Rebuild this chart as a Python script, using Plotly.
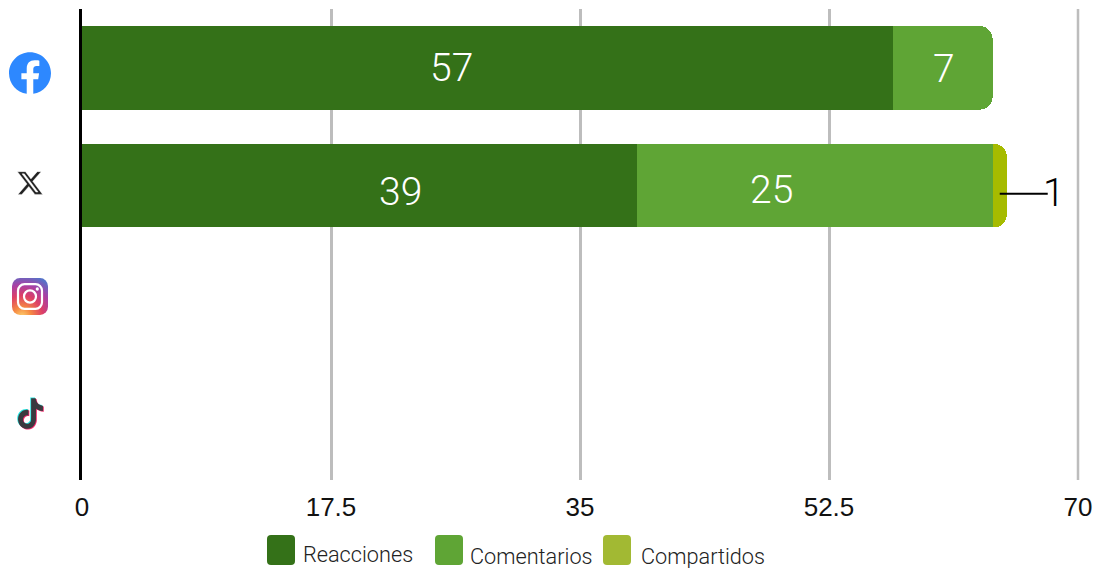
import base64
import plotly.graph_objects as go

platforms = ["Facebook", "X", "Instagram", "TikTok"]
reacciones = [57, 39, None, None]
comentarios = [7, 25, None, None]
compartidos = [None, 1, None, None]
series_names = ["Reacciones", "Comentarios", "Compartidos"]
tick_values = [0, 17.5, 35, 52.5, 70]
tick_labels = ["0", "17.5", "35", "52.5", "70"]

DARK, MID, LIME = "#347118", "#5fa535", "#a6bb00"
LEGEND_COLORS = [DARK, MID, "#a2b933"]
W, H = 1096, 568
L, R, T, B = 82, 18, 9, 88
LABEL_FONT = "Roboto"
TEXT_FONT = "Liberation Sans"


def px(x):
    return (x - L) / (W - L - R)


def py(y):
    return 1 - (y - T) / (H - T - B)


def uri(svg):
    return "data:image/svg+xml;base64," + base64.b64encode(svg.encode()).decode()


FB = ("M24 12.073c0-6.627-5.373-12-12-12s-12 5.373-12 12c0 5.99 4.388 10.954 10.125 11.854v-8.385H7.078v-3.47h3.047V9.43"
      "c0-3.007 1.792-4.669 4.533-4.669 1.312 0 2.686.235 2.686.235v2.953H15.83c-1.491 0-1.956.925-1.956 1.874v2.25h3.328"
      "l-.532 3.47h-2.796v8.385C19.612 23.027 24 18.062 24 12.073z")
XP = ("M18.244 2.25h3.308l-7.227 8.26 8.502 11.24H16.17l-5.214-6.817L4.99 21.75H1.68l7.73-8.835L1.254 2.25H8.08l4.713 6.231z"
      "m-1.161 17.52h1.833L7.084 4.126H5.117z")
TT = ("M12.525.02c1.31-.02 2.61-.01 3.91-.02.08 1.53.63 3.09 1.75 4.17 1.12 1.11 2.7 1.62 4.24 1.79v4.03c-1.44-.05-2.89-.35-4.2-.97"
      "-.57-.26-1.1-.59-1.62-.93-.01 2.92.01 5.84-.02 8.75-.08 1.4-.54 2.79-1.35 3.94-1.31 1.92-3.58 3.17-5.91 3.21-1.43.08-2.86-.31-4.08-1.03"
      "-2.02-1.19-3.44-3.37-3.65-5.71-.02-.5-.03-1-.01-1.49.18-1.9 1.12-3.72 2.58-4.96 1.66-1.44 3.98-2.13 6.15-1.72.02 1.48-.04 2.96-.04 4.44"
      "-.99-.32-2.15-.23-3.02.37-.63.41-1.11 1.04-1.36 1.75-.21.51-.15 1.07-.14 1.61.24 1.64 1.82 3.02 3.5 2.87 1.12-.01 2.19-.66 2.77-1.61"
      ".19-.33.4-.67.41-1.06.1-1.79.06-3.57.07-5.36.01-4.03-.01-8.05.02-12.07z")

svg_fb = f'<svg xmlns="http://www.w3.org/2000/svg" width="120" height="120" viewBox="0 0 24 24"><circle cx="12" cy="12" r="11" fill="#fff"/><path fill="#2d88ff" d="{FB}"/></svg>'
svg_x = f'<svg xmlns="http://www.w3.org/2000/svg" width="120" height="120" viewBox="0 0 24 24"><path fill="#222" stroke="#fff" stroke-width="0.35" d="{XP}"/></svg>'
svg_ig = ('<svg xmlns="http://www.w3.org/2000/svg" width="120" height="120" viewBox="0 0 36 36"><defs>'
          '<radialGradient id="g" cx="0.28" cy="1.05" r="1.15">'
          '<stop offset="0" stop-color="#fdd26f"/><stop offset="0.22" stop-color="#f68a42"/>'
          '<stop offset="0.5" stop-color="#dd3f66"/><stop offset="0.75" stop-color="#a940a5"/>'
          '<stop offset="1" stop-color="#5572c8"/></radialGradient></defs>'
          '<rect width="36" height="36" rx="8" fill="url(#g)"/>'
          '<rect x="6" y="6" width="24" height="24" rx="6.5" fill="none" stroke="#fff" stroke-width="2.2"/>'
          '<circle cx="18" cy="18" r="6" fill="none" stroke="#fff" stroke-width="2.2"/>'
          '<circle cx="25.3" cy="10.7" r="1.6" fill="#fff"/></svg>')
svg_tt = ('<svg xmlns="http://www.w3.org/2000/svg" width="120" height="120" viewBox="-1 -1 26 26">'
          f'<path fill="#25e5e0" transform="translate(-.7 -.6)" d="{TT}"/>'
          f'<path fill="#f0256a" transform="translate(.7 .6)" d="{TT}"/>'
          f'<path fill="#3a3a3f" d="{TT}"/></svg>')

# (svg, left, top, width, height) in page pixels
icons = [(svg_fb, 9, 52, 42, 42), (svg_x, 16, 169, 28, 28), (svg_ig, 12, 278, 36, 37), (svg_tt, 15, 397, 31, 33)]

fig = go.Figure()
for name, vals, col in zip(series_names, [reacciones, comentarios, compartidos], [DARK, MID, LIME]):
    fig.add_bar(name=name, y=platforms, x=vals, orientation="h", marker=dict(color=col, line=dict(width=0)),
                showlegend=False, hoverinfo="x+y+name")

# Data labels, taken from the values; the reference's labels sit off-centre (dx right, dy down, in pixels)
label_offsets = {(0, 0): (-36, 0), (1, 0): (41, 6), (1, 1): (-43, 4), (0, 1): (1, 1)}
annotations = []
for (row, col), (dx, dy) in label_offsets.items():
    vals = [reacciones, comentarios][col]
    start = reacciones[row] if col == 1 else 0
    annotations.append(dict(x=start + vals[row] / 2, y=platforms[row], xref="x", yref="y", text=str(vals[row]),
                            showarrow=False, xshift=dx, yshift=-dy,
                            font=dict(family=LABEL_FONT, size=39, color="white", weight=300)))

# Outside label with leader line for Compartidos on X
share_mid = reacciones[1] + comentarios[1] + compartidos[1] / 2
annotations.append(dict(x=share_mid, y=platforms[1], xref="x", yref="y", text=str(compartidos[1]), showarrow=False,
                        xshift=54, yshift=-7, font=dict(family=LABEL_FONT, size=39, color="black", weight=300)))
shapes = [dict(type="line", xsizemode="pixel", ysizemode="pixel", xref="x", yref="y", xanchor=share_mid,
               yanchor=platforms[1], x0=0, x1=48, y0=-8, y1=-8, line=dict(color="black", width=2), layer="above"),
          # plotly drops the gridline at the range end, so the last one is drawn on the plot's right edge
          dict(type="line", xref="paper", yref="paper", x0=1, x1=1, y0=0, y1=1,
               line=dict(color="#bdbdbd", width=2.5), layer="below")]

# Legend drawn to the reference's uneven layout
legend_pos = [(267, 300.5, 554), (435, 468, 556), (603, 639, 556.5)]
for name, col, (sx, tx, ty) in zip(series_names, LEGEND_COLORS, legend_pos):
    x0, x1, y0, y1 = sx, sx + 28, 535, 565
    r = 4
    def P(a, b):
        return f"{px(a):.5f},{py(b):.5f}"
    path = (f"M{P(x0 + r, y0)} L{P(x1 - r, y0)} Q{P(x1, y0)} {P(x1, y0 + r)} L{P(x1, y1 - r)} Q{P(x1, y1)} {P(x1 - r, y1)} "
            f"L{P(x0 + r, y1)} Q{P(x0, y1)} {P(x0, y1 - r)} L{P(x0, y0 + r)} Q{P(x0, y0)} {P(x0 + r, y0)} Z")
    shapes.append(dict(type="path", xref="paper", yref="paper", path=path, fillcolor=col, line=dict(width=0)))
    annotations.append(dict(x=px(tx), y=py(ty), xref="paper", yref="paper", text=name, showarrow=False, xanchor="left",
                            yanchor="middle", font=dict(family=LABEL_FONT, size=21.7, color="#222", weight=300)))

images = [dict(source=uri(s), xref="paper", yref="paper", x=px(x), y=py(y), sizex=w / (W - L - R), sizey=h / (H - T - B),
               xanchor="left", yanchor="top", sizing="stretch", layer="above") for s, x, y, w, h in icons]

fig.update_layout(
    width=W, height=H, margin=dict(l=L, r=R, t=T, b=B, pad=0), barmode="stack", bargap=0.29, barcornerradius=13,
    paper_bgcolor="white", plot_bgcolor="white", annotations=annotations, shapes=shapes, images=images,
    xaxis=dict(range=[0, 70], tickvals=tick_values, ticktext=tick_labels, showgrid=True, gridcolor="#bdbdbd", gridwidth=2.5,
               zeroline=False, showline=False, ticks="", tickfont=dict(family=TEXT_FONT, size=26, color="#111"),
               ticklabelstandoff=9, automargin=False),
    yaxis=dict(categoryorder="array", categoryarray=platforms, range=[3.5, -0.5], showticklabels=False, ticks="",
               showgrid=False, zeroline=False, showline=True, linecolor="black", linewidth=2.5, automargin=False),
)
fig.write_html("out.html", config={"displayModeBar": False},
               post_script="document.body.style.margin='0';document.body.style.overflow='hidden';")
